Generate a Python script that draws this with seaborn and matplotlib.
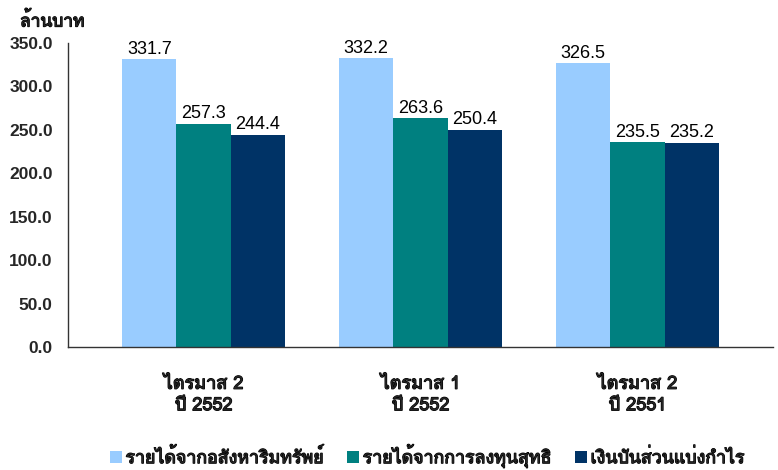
import matplotlib
matplotlib.use("Agg")
import matplotlib.pyplot as plt
import matplotlib.patheffects as pe
import seaborn as sns
import pandas as pd
from matplotlib import font_manager
from matplotlib.ticker import FixedLocator, FormatStrFormatter

categories = ["ไตรมาส 2\nปี 2552", "ไตรมาส 1\nปี 2552", "ไตรมาส 2\nปี 2551"]
series = ["รายได้จากอสังหาริมทรัพย์", "รายได้จากการลงทุนสุทธิ", "เงินปันส่วนแบ่งกำไร"]
rent_income = [331.7, 332.2, 326.5]
invest_income = [257.3, 263.6, 235.5]
dividends = [244.4, 250.4, 235.2]
y_ticks = [0, 50, 100, 150, 200, 250, 300, 350]
y_unit_label = "ล้านบาท"
colors = ["#99CCFF", "#008080", "#003366"]


def find_thai_font():
    try:
        from fontTools.ttLib import TTFont
    except Exception:
        return None
    found = {}
    for f in font_manager.fontManager.ttflist:
        try:
            tt = TTFont(f.fname, fontNumber=0, lazy=True)
            cmap = tt.getBestCmap()
            if cmap and 0x0E01 in cmap and 0x0E32 in cmap and 0x0E49 in cmap:
                w = f.weight if isinstance(f.weight, int) else 400
                found.setdefault(f.name, set()).add(w)
        except Exception:
            pass
    if not found:
        return None
    bold = [n for n, ws in found.items() if max(ws) >= 600]
    for pref in ["Tahoma", "Noto Sans Thai", "Loma", "Garuda", "Sarabun"]:
        if pref in bold:
            return pref
    if bold:
        return bold[0]
    return list(found)[0]


sns.set_theme(style="white")
thai = find_thai_font()
latin_fams = ["Liberation Sans", "DejaVu Sans"]
thai_fams = ([thai] if thai else []) + latin_fams
plt.rcParams["font.family"] = latin_fams
fake_bold = [pe.withStroke(linewidth=0.9, foreground="black")]

values = [rent_income, invest_income, dividends]
rows = []
for s, vals in zip(series, values):
    for c, v in zip(categories, vals):
        rows.append({"cat": c, "series": s, "value": v})
df = pd.DataFrame(rows)

fig = plt.figure(figsize=(7.78, 4.70), dpi=100)
ax = fig.add_axes([68 / 778, 1 - 347 / 470, 705 / 778, 304 / 470])

sns.barplot(data=df, x="cat", y="value", hue="series", order=categories,
            hue_order=series, palette=colors, width=0.75, gap=0,
            saturation=1, errorbar=None, ax=ax, legend=True, linewidth=0)

for cont in ax.containers:
    ax.bar_label(cont, fmt="%.1f", padding=1, fontsize=13, color="black")

u = 0.25
ax.set_xlim(-2.5 * u, 2 + 2.5 * u)
ax.set_ylim(0, 350)
ax.yaxis.set_major_locator(FixedLocator(y_ticks))
ax.yaxis.set_major_formatter(FormatStrFormatter("%.1f"))
edges = [-2.5 * u + k * u for k in range(14)]
ax.set_xticks(edges)
ax.set_xticklabels([""] * len(edges))
ax.set_xticks([0, 1, 2], minor=True)
ax.set_xticklabels(categories, minor=True, fontsize=13, family=thai_fams,
                   linespacing=1.25)
for lab in ax.get_xticklabels(minor=True):
    lab.set_path_effects(fake_bold)
ax.tick_params(axis="x", which="minor", length=0, pad=20)
ax.tick_params(axis="x", which="major", length=5, width=1, color="#333333", direction="out")
ax.tick_params(axis="y", length=5, width=1, color="#333333", direction="out", pad=6,
               labelsize=12.5)
for lab in ax.get_yticklabels():
    lab.set_fontweight("bold")
ax.set_xlabel("")
ax.set_ylabel("")
for sp in ["top", "right"]:
    ax.spines[sp].set_visible(False)
for sp in ["left", "bottom"]:
    ax.spines[sp].set_color("#333333")
    ax.spines[sp].set_linewidth(1)
ax.grid(False)

handles, labels = ax.get_legend_handles_labels()
ax.get_legend().remove()
leg = fig.legend(handles, labels, loc="center left",
                 bbox_to_anchor=(110 / 778, 1 - 456 / 470),
                 ncol=3, frameon=False, handlelength=0.65, handleheight=0.65,
                 handletextpad=0.22, columnspacing=1.35, borderpad=0,
                 borderaxespad=0, prop={"family": thai_fams, "size": 12.8})
for t in leg.get_texts():
    t.set_path_effects(fake_bold)

fig.text(20 / 778, 1 - 21 / 470, y_unit_label, ha="left", va="center",
         fontsize=12.5, family=thai_fams, path_effects=fake_bold)

fig.savefig("out.png", dpi=100)
